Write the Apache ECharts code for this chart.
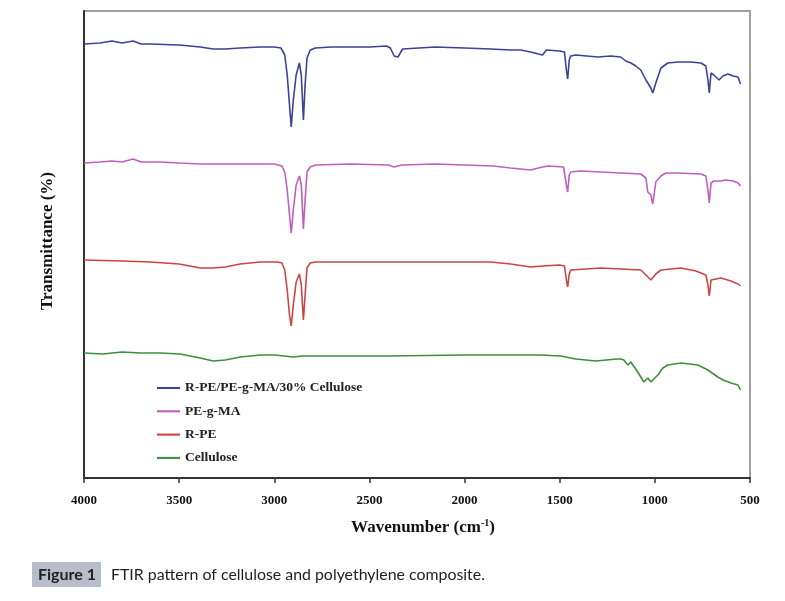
<!DOCTYPE html>
<html>
<head>
<meta charset="utf-8">
<script src="https://cdn.jsdelivr.net/npm/echarts@6/dist/echarts.min.js"></script>
<style>
html,body{margin:0;padding:0;background:#fff;}
#chart{width:785px;height:601px;}
</style>
</head>
<body>
<div id="chart"></div>
<script>
// Series names
const seriesNames = ['R-PE/PE-g-MA/30% Cellulose', 'PE-g-MA', 'R-PE', 'Cellulose'];
// X tick values
const xTicks = [4000, 3500, 3000, 2500, 2000, 1500, 1000, 500];

// R-PE/PE-g-MA/30% Cellulose (offset transmittance, arbitrary units)
const compWn = [4000,3916,3853,3800,3742,3700,3653,3500,3389,3321,3258,3179,3074,3000,2965,2945,2932,2920,2911,2900,2885,2868,2858,2847,2838,2828,2811,2784,2700,2500,2410,2390,2370,2350,2326,2153,2000,1863,1760,1705,1653,1590,1570,1500,1475,1465,1458,1450,1442,1416,1300,1232,1179,1153,1126,1100,1074,1047,1021,1011,995,968,932,879,811,758,732,721,714,705,690,663,642,616,589,563,550];
const compT  = [434,435,437,435,437,434,434,433,431,429,429,430,431,431,430,423,403,373,351,378,403,415,403,358,393,420,428,430,431,431,432,430,422,421,429,431,430,429,428,428,426,423,428,427,426,408,399,418,422,423,421,422,421,417,415,412,408,398,390,385,395,410,415,416,416,415,412,398,385,405,403,398,402,404,402,401,394];

// PE-g-MA
const pegWn = [4000,3916,3853,3800,3742,3700,3600,3500,3389,3200,3000,2960,2945,2932,2920,2911,2900,2885,2868,2858,2847,2838,2828,2811,2784,2600,2400,2370,2330,2153,2000,1850,1758,1653,1590,1560,1480,1465,1458,1450,1442,1390,1179,1074,1047,1037,1021,1011,995,968,942,879,758,732,721,714,705,690,653,626,589,563,550];
const pegT  = [315,316,317,316,319,316,316,315,314,314,314,312,306,288,263,245,268,293,302,293,249,278,306,311,313,314,313,311,313,314,313,312,310,308,311,312,311,293,286,303,306,307,305,304,300,286,283,274,296,302,305,305,304,302,288,275,295,297,297,298,297,295,292];

// R-PE
const rpeWn = [4000,3800,3653,3500,3389,3321,3258,3179,3074,2984,2960,2945,2932,2920,2911,2900,2885,2868,2858,2847,2838,2828,2811,2784,2400,2000,1863,1758,1653,1590,1500,1475,1465,1458,1450,1442,1284,1074,1047,1021,1011,995,968,863,784,732,721,714,705,695,653,600,563,550];
const rpeT  = [218,217,216,214,210,210,211,214,216,216,215,208,188,163,152,173,196,204,193,158,183,210,215,216,216,216,216,214,211,212,213,212,198,191,204,208,210,208,203,198,197,204,208,210,207,203,193,182,198,200,200,197,194,192];

// Cellulose
const celWn = [4000,3900,3800,3700,3600,3495,3389,3321,3258,3179,3074,3000,2900,2850,2700,2400,2000,1800,1600,1495,1416,1311,1200,1179,1163,1142,1126,1090,1058,1037,1021,984,958,932,863,774,721,669,642,600,563,550];
const celT  = [125,124,126,125,125,124,120,117,118,121,123,123,121,122,122,122,123,123,123,122,119,117,119,119,118,113,116,106,96,100,96,103,110,113,115,113,108,101,98,95,93,88];

const colors = ['#3c4199', '#c05ec0', '#cc4444', '#3e8e3e'];
const wnSets = [compWn, pegWn, rpeWn, celWn];
const tSets = [compT, pegT, rpeT, celT];

const chart = echarts.init(document.getElementById('chart'), null, {renderer: 'canvas'});
const serif = '"Liberation Serif", "DejaVu Serif", serif';

const series = seriesNames.map((name, i) => ({
  name: name,
  type: 'line',
  data: wnSets[i].map((w, k) => [w, tSets[i][k]]),
  symbol: 'none',
  showSymbol: false,
  smooth: false,
  lineStyle: {color: colors[i], width: 1.6},
  itemStyle: {color: colors[i]},
  z: 3
}));

chart.setOption({
  animation: false,
  backgroundColor: '#fff',
  grid: {left: 84, right: 35, top: 11, bottom: 123, show: true, borderColor: '#808080', borderWidth: 1.5},
  legend: {
    data: seriesNames,
    orient: 'vertical',
    left: 152,
    top: 376,
    itemWidth: 23,
    itemHeight: 10,
    itemGap: 9.3,
    icon: 'path://M0,4.5 L22,4.5 L22,6.5 L0,6.5 Z',
    textStyle: {fontFamily: serif, fontWeight: 'bold', fontSize: 13.5, color: '#222'}
  },
  xAxis: {
    type: 'value',
    inverse: true,
    min: 500,
    max: 4000,
    interval: 500,
    axisLine: {show: true, lineStyle: {color: '#333', width: 2}},
    axisTick: {show: true, inside: false, length: 5, lineStyle: {color: '#333', width: 1.5}},
    axisLabel: {
      margin: 16, fontFamily: serif, fontWeight: 'bold', fontSize: 13, color: '#111',
      formatter: v => (xTicks.indexOf(v) >= 0 ? String(v) : '')
    },
    splitLine: {show: false}
  },
  yAxis: {
    type: 'value',
    min: 0,
    max: 467,
    axisLine: {show: true, lineStyle: {color: '#333', width: 2}},
    axisTick: {show: false},
    axisLabel: {show: false},
    splitLine: {show: false}
  },
  graphic: [
    {
      type: 'text',
      style: {
        text: 'Wavenumber (cm{sup|-1})',
        x: 423, y: 528,
        align: 'center', verticalAlign: 'middle',
        fontFamily: serif, fontWeight: 'bold', fontSize: 17, fill: '#111',
        rich: {sup: {fontFamily: serif, fontWeight: 'bold', fontSize: 10, verticalAlign: 'top', padding: [0,0,9,0], fill: '#111'}}
      }
    },
    {
      type: 'text',
      x: 48, y: 241,
      rotation: Math.PI / 2,
      style: {
        text: 'Transmittance (%)',
        x: 0, y: 0,
        align: 'center', verticalAlign: 'middle',
        fontFamily: serif, fontWeight: 'bold', fontSize: 17, fill: '#111'
      }
    },
    {
      type: 'rect',
      shape: {x: 32, y: 562, width: 69, height: 25},
      style: {fill: '#b9bdc9'}
    },
    {
      type: 'text',
      style: {
        text: 'Figure 1', x: 38, y: 575, verticalAlign: 'middle',
        fontFamily: 'Lato, "Open Sans", sans-serif', fontWeight: 'bold', fontSize: 16, fill: '#222'
      }
    },
    {
      type: 'text',
      style: {
        text: 'FTIR pattern of cellulose and polyethylene composite.', x: 111, y: 575, verticalAlign: 'middle',
        fontFamily: 'Lato, "Open Sans", sans-serif', fontSize: 15.9, fill: '#222'
      }
    }
  ],
  series: series
});
</script>
</body>
</html>
